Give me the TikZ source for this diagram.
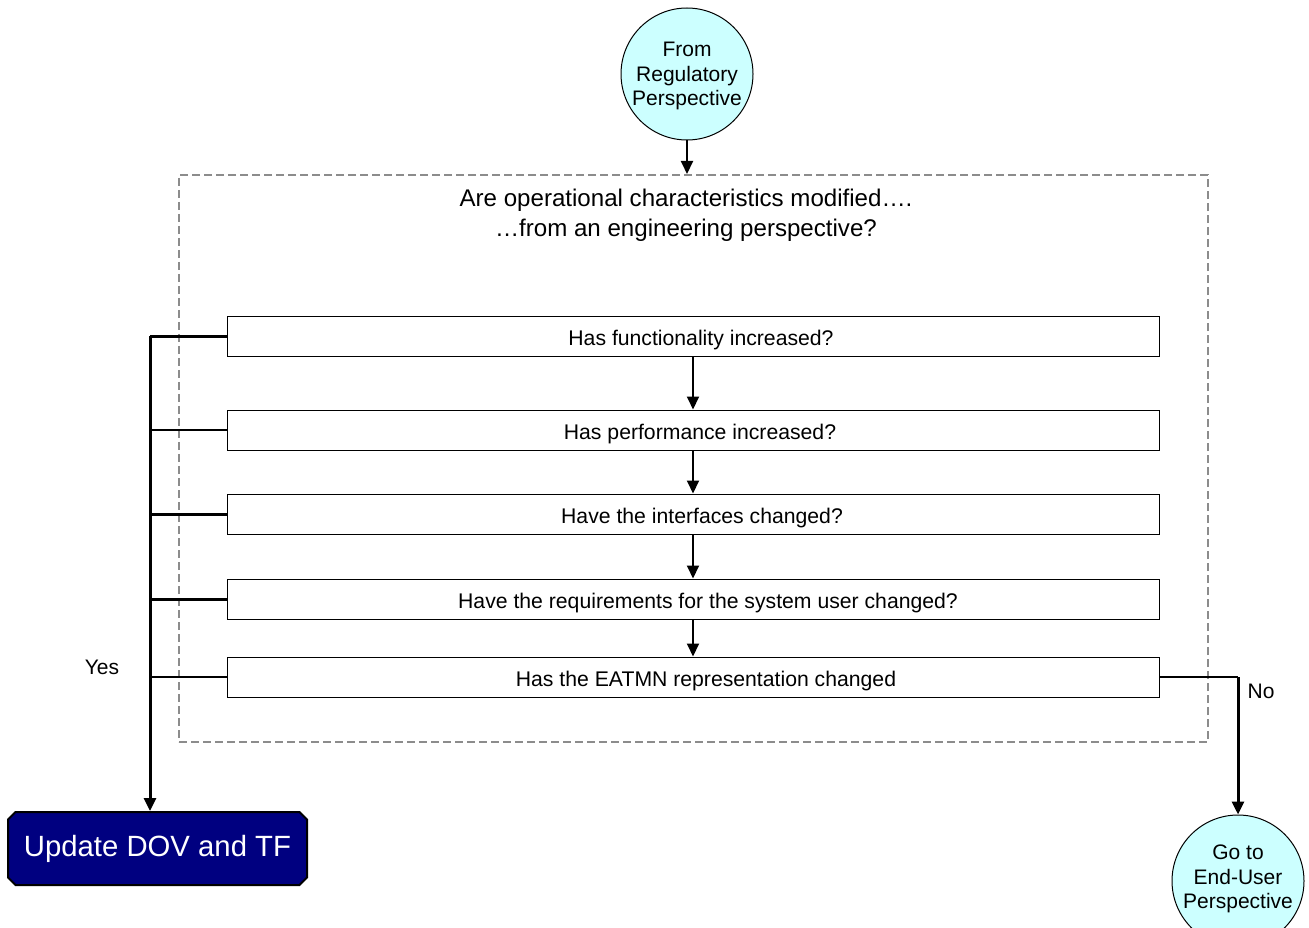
\documentclass[tikz,border=0pt]{standalone}
\usepackage{fontspec}
\setmainfont{Liberation Sans}
\usetikzlibrary{arrows.meta,shapes.misc}
\definecolor{termfill}{HTML}{CCFFFF}
\definecolor{updfill}{HTML}{000080}
\definecolor{framegray}{HTML}{8C8C8C}
\begin{document}
\begin{tikzpicture}[x=1pt,y=-1pt,
  question/.style={draw=black,line width=1pt,minimum width=932pt,minimum height=40pt,inner sep=0pt,
    text height=19pt,text depth=0pt,font=\fontsize{21.2}{24}\selectfont},
  terminal/.style={circle,draw=black,line width=1pt,fill=termfill,minimum size=132pt,inner sep=0pt},
  termtext/.style={align=center,inner sep=0pt,font=\fontsize{21}{24.5}\selectfont},
  flow/.style={line width=2pt,-{Triangle[length=13pt,width=12pt]}},
  busline/.style={line width=3pt},
  tap/.style={line width=1.5pt},
  lbl/.style={font=\fontsize{21}{24}\selectfont},
]
\clip (0,0) rectangle (1309,928);
\useasboundingbox (0,0) rectangle (1309,928);

% dashed frame around the engineering questions
\node[draw=framegray,line width=2pt,dash pattern=on 8pt off 4pt,minimum width=1029pt,minimum height=567pt,inner sep=0pt] (frame) at (693.5,458.5) {};
\node[align=center,font=\fontsize{24.1}{30}\selectfont] (title) at (686,215)
  {Are operational characteristics modified….\\…from an engineering perspective?};

% start terminal
\node[terminal] (reg) at (687,74) {};
\node[termtext] (regtext) at (687,76) {From\\Regulatory\\Perspective};
\draw[flow] (reg.south) -- (reg.south |- frame.north);

% the five questions (labels sit a little right of centre)
\node[question] (q1) at (693,336) {\hspace*{16pt}Has functionality increased?};
\node[question] (q2) at (693,430) {\hspace*{14pt}Has performance increased?};
\node[question] (q3) at (693,514) {\hspace*{18pt}Have the interfaces changed?};
\node[question] (q4) at (693,599) {\hspace*{30pt}Have the requirements for the system user changed?};
\node[question] (q5) at (693,677) {\hspace*{26pt}Has the EATMN representation changed};

\draw[flow] (q1.south) -- (q2.north);
\draw[flow] (q2.south) -- (q3.north);
\draw[flow] (q3.south) -- (q4.north);
\draw[flow] (q4.south) -- (q5.north);

% Yes outcome
\node[chamfered rectangle,chamfered rectangle xsep=4pt,draw=black,line width=2pt,fill=updfill,text=white,
  minimum width=299pt,minimum height=73pt,inner sep=0pt,font=\fontsize{29.3}{32}\selectfont] (upd) at (157.5,848.5) {Update DOV and TF};
\coordinate (bus) at (150,336);
\draw[busline] (q1.west) -- (bus);
\draw[busline,-{Triangle[length=13pt,width=12pt]}] (bus) -- (bus |- upd.north);
\draw[tap] (q2.west) -- (q2.west -| bus);
\draw[busline] (q3.west) -- (q3.west -| bus);
\draw[busline] (q4.west) -- (q4.west -| bus);
\draw[tap] (q5.west) -- (q5.west -| bus);
\node[lbl] (yes) at (102,667) {Yes};

% No outcome
\node[terminal] (eu) at (1238,881) {};
\node[termtext] (eutext) at (1238,879) {Go to\\End-User\\Perspective};
\coordinate (turn) at (1238,677);
\draw[tap] (q5.east) -- (turn);
\draw[busline,-{Triangle[length=13pt,width=12pt]}] (turn) -- (eu.north);
\node[lbl] (no) at (1261,691) {No};
\end{tikzpicture}
\end{document}
